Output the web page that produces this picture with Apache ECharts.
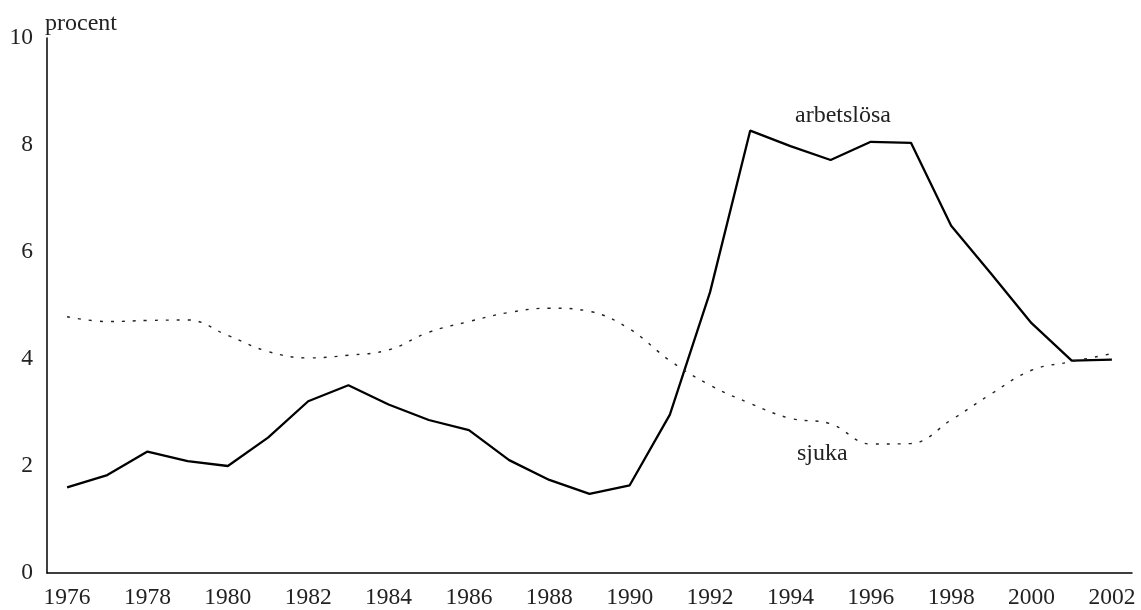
<!DOCTYPE html>
<html>
<head>
<meta charset="utf-8">
<script src="https://cdn.jsdelivr.net/npm/echarts@6/dist/echarts.min.js"></script>
<style>
html,body{margin:0;padding:0;background:#fff;}
#chart{width:1141px;height:610px;}
</style>
</head>
<body>
<div id="chart"></div>
<script>
const years = ['1976','1977','1978','1979','1980','1981','1982','1983','1984','1985','1986','1987','1988','1989','1990','1991','1992','1993','1994','1995','1996','1997','1998','1999','2000','2001','2002'];
const arbetslosa = [1.6,1.83,2.27,2.09,2.0,2.53,3.21,3.51,3.15,2.86,2.67,2.11,1.74,1.48,1.64,2.96,5.25,8.27,7.98,7.72,8.06,8.04,6.49,5.59,4.67,3.97,3.99];
const sjuka = [4.79,4.70,4.72,4.73,4.44,4.14,4.02,4.07,4.17,4.5,4.70,4.87,4.95,4.89,4.56,3.97,3.51,3.17,2.89,2.79,2.41,2.42,2.86,3.35,3.79,3.95,4.10];
const yTicks = [0,2,4,6,8,10];

const font = '"Liberation Serif", "Times New Roman", serif';
const chart = echarts.init(document.getElementById('chart'));
chart.setOption({
  backgroundColor: '#fff',
  animation: false,
  grid: {left: 47, right: 9, top: 38, bottom: 35},
  xAxis: {
    type: 'category',
    data: years,
    boundaryGap: true,
    axisLine: {lineStyle: {color: '#000', width: 1.5}},
    axisTick: {show: false},
    axisLabel: {interval: 1, color: '#222', fontFamily: font, fontSize: 23.5, margin: 13}
  },
  yAxis: {
    type: 'value',
    min: yTicks[0],
    max: yTicks[yTicks.length-1],
    interval: 2,
    name: 'procent',
    nameLocation: 'end',
    nameGap: 2,
    nameTextStyle: {align: 'left', verticalAlign: 'bottom', color: '#222', fontFamily: font, fontSize: 24, padding: [0,0,0,-2]},
    axisLine: {show: true, lineStyle: {color: '#000', width: 1.5}},
    axisTick: {show: false},
    splitLine: {show: false},
    axisLabel: {color: '#222', fontFamily: font, fontSize: 23.5, margin: 14}
  },
  series: [
    {
      name: 'arbetslösa', type: 'line', data: arbetslosa, symbol: 'none',
      lineStyle: {color: '#000', width: 2.3}
    },
    {
      name: 'sjuka', type: 'line', data: sjuka, symbol: 'none', smooth: 0.4,
      lineStyle: {color: '#222', width: 1.4, type: [3, 8]}
    }
  ],
  graphic: [
    {type: 'text', left: 795, top: 104, style: {text: 'arbetslösa', font: '24px ' + font, fill: '#222'}},
    {type: 'text', left: 797, top: 442, style: {text: 'sjuka', font: '24px ' + font, fill: '#222'}}
  ]
});
</script>
</body>
</html>
